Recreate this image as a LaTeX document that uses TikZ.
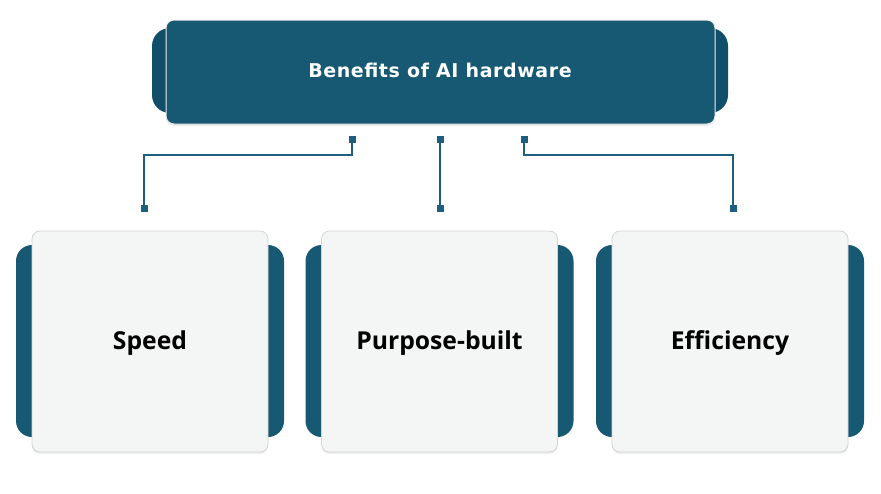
\documentclass[tikz,border=0pt]{standalone}
\usepackage{fontspec}
\setmainfont{Open Sans}
\newfontfamily\titlefont[LetterSpace=3]{DejaVu Sans}
\usetikzlibrary{shadows}
\definecolor{teal}{HTML}{175873}
\definecolor{tealdark}{HTML}{114E69}
\definecolor{tealline}{HTML}{1E5F80}
\definecolor{cardfill}{HTML}{F4F5F5}
\definecolor{cardedge}{HTML}{D2D4D6}
\tikzset{
  tabbox/.style={fill=tealdark, rounded corners=18pt, inner sep=0pt},
  cardtab/.style={fill=teal, rounded corners=16pt, inner sep=0pt, minimum width=268pt, minimum height=192pt},
  card/.style={fill=cardfill, draw=cardedge, line width=0.8pt, rounded corners=8pt, inner sep=0pt,
    minimum width=236pt, minimum height=221pt,
    drop shadow={opacity=0.12, shadow xshift=0pt, shadow yshift=-2pt}},
  topbox/.style={fill=teal, draw=white!85!gray, line width=1pt, rounded corners=8pt, inner sep=0pt,
    minimum width=549pt, minimum height=104pt,
    drop shadow={opacity=0.15, shadow xshift=0pt, shadow yshift=-2pt}},
  titletext/.style={text=white, anchor=base, inner sep=0pt, font=\titlefont\bfseries\fontsize{19}{23}\selectfont},
  cardtext/.style={text=black, anchor=base, inner sep=0pt, font=\bfseries\fontsize{24.7}{28}\selectfont},
  pin/.style={fill=tealline, inner sep=0pt, minimum size=7pt},
  conn/.style={draw=tealline, line width=1.5pt}
}
\begin{document}
\begin{tikzpicture}[x=1pt,y=-1pt]
\useasboundingbox (0,0) rectangle (881,493);
% top
\node[tabbox, minimum width=576pt, minimum height=85pt] (toptab) at (440,70.5) {};
\node[topbox] (top) at (440.5,72) {};
\node[titletext] (title) at (440,77.5) {Benefits of AI hardware};
% cards
\node[cardtab] (tab1) at (150,341) {};
\node[cardtab] (tab2) at (439.5,341) {};
\node[cardtab] (tab3) at (730,341) {};
\node[card] (c1) at (150,341.5) {};
\node[card] (c2) at (439.5,341.5) {};
\node[card] (c3) at (730,341.5) {};
\node[cardtext] (t1) at (150,349) {Speed};
\node[cardtext] (t2) at (439.5,349) {Purpose-built};
\node[cardtext] (t3) at (730,349) {Efficiency};
% connectors
\node[pin] (p1) at (352,139.5) {};
\node[pin] (p2) at (440,139.5) {};
\node[pin] (p3) at (524,139.5) {};
\node[pin] (q1) at (144,208.5) {};
\node[pin] (q2) at (440,208.5) {};
\node[pin] (q3) at (733,208.5) {};
\coordinate (k1) at (144,155);
\coordinate (k3) at (733,155);
\draw[conn] (p1.center) |- (k1) -- (q1.center);
\draw[conn] (p2.center) -- (q2.center);
\draw[conn] (p3.center) |- (k3) -- (q3.center);
\end{tikzpicture}
\end{document}
